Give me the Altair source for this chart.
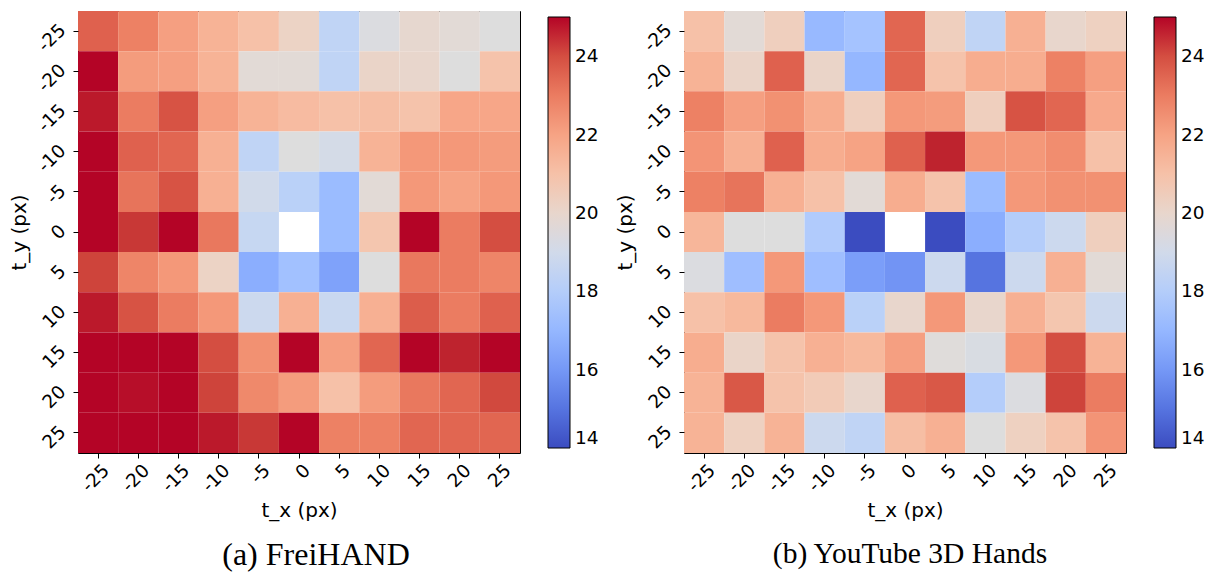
import altair as alt
import pandas as pd

# ---------------- data ----------------
t_x_labels = ["-25", "-20", "-15", "-10", "-5", "0", "5", "10", "15", "20", "25"]
t_y_labels = ["-25", "-20", "-15", "-10", "-5", "0", "5", "10", "15", "20", "25"]

# rows: t_y from -25 (top) to 25 (bottom); columns: t_x from -25 to 25
freihand_rows = [
    [23.6, 22.9, 22.1, 21.5, 21.0, 20.2, 18.4, 19.4, 19.9, 19.7, 19.5],
    [25.5, 22.2, 22.1, 21.5, 19.7, 19.7, 18.4, 20.1, 20.0, 19.5, 20.9],
    [24.8, 23.0, 23.9, 22.1, 21.5, 21.2, 21.0, 21.1, 20.9, 21.9, 21.9],
    [25.5, 23.6, 23.5, 21.6, 18.4, 19.5, 19.1, 21.5, 22.3, 22.3, 22.2],
    [25.5, 23.2, 23.9, 21.6, 19.0, 18.2, 17.2, 19.7, 22.3, 22.0, 22.3],
    [25.5, 24.4, 25.5, 23.1, 18.6, None, 17.2, 20.8, 25.5, 23.0, 24.0],
    [24.2, 22.8, 22.3, 20.2, 16.7, 17.4, 16.3, 19.5, 23.1, 23.0, 22.8],
    [24.8, 23.9, 23.0, 22.3, 18.8, 21.6, 18.7, 21.6, 23.7, 23.0, 23.6],
    [25.5, 25.5, 25.5, 24.0, 22.5, 25.5, 22.1, 23.5, 25.5, 24.7, 25.5],
    [25.5, 24.9, 25.5, 24.2, 22.7, 22.2, 21.0, 22.2, 23.1, 23.5, 24.1],
    [25.5, 25.5, 25.5, 24.8, 24.4, 25.5, 22.9, 22.9, 23.5, 23.5, 23.5],
]

youtube_rows = [
    [21.0, 19.7, 20.4, 17.1, 17.5, 23.5, 20.4, 18.4, 21.6, 20.0, 20.3],
    [21.5, 20.1, 23.6, 20.1, 17.0, 23.5, 20.9, 21.7, 21.7, 22.9, 22.1],
    [22.9, 22.1, 22.5, 21.7, 20.4, 22.3, 22.2, 20.4, 23.9, 23.5, 21.8],
    [22.4, 21.6, 23.6, 21.7, 22.0, 23.6, 24.7, 22.3, 22.3, 22.6, 21.0],
    [22.9, 23.2, 21.6, 21.0, 19.7, 21.7, 20.9, 17.2, 22.3, 22.5, 22.5],
    [21.4, 19.5, 19.5, 17.9, 14.0, None, 14.0, 16.7, 18.0, 18.8, 20.4],
    [19.4, 17.3, 22.3, 17.3, 16.2, 15.9, 18.8, 15.0, 18.8, 21.6, 19.7],
    [21.0, 21.3, 23.0, 22.3, 18.2, 20.0, 22.3, 20.0, 21.6, 20.8, 18.8],
    [21.7, 20.1, 20.9, 21.6, 21.3, 22.1, 19.6, 19.3, 22.3, 24.0, 21.5],
    [21.5, 23.8, 20.9, 20.6, 20.0, 23.6, 23.8, 18.0, 19.4, 24.2, 23.0],
    [21.5, 20.3, 21.5, 18.8, 18.4, 21.1, 21.6, 19.5, 20.3, 20.9, 22.4],
]

captions = ["(a) FreiHAND", "(b) YouTube 3D Hands"]
colorbar_ticks = [14, 16, 18, 20, 22, 24]

# coolwarm colour map (Moreland 33-point table) over 14..25
coolwarm = [
    "#3b4cc0", "#445acc", "#4d68d7", "#5775e1", "#6282ea", "#6c8ef1", "#779af7",
    "#82a5fb", "#8db0fe", "#98b9ff", "#a3c2ff", "#aec9fd", "#b8d0f9", "#c2d5f4",
    "#ccd9ee", "#d5dbe6", "#dddddd", "#e5d8d1", "#ecd3c5", "#f1cdba", "#f5c4ac",
    "#f7bba0", "#f7b194", "#f7a688", "#f49a7b", "#f18d6f", "#ec7f63", "#e57058",
    "#de604d", "#d55042", "#cb3e38", "#c0282f", "#b40426",
]
cmap_domain = [14 + 11 * i / 32 for i in range(33)]


def to_frame(rows):
    recs = []
    for yi, row in enumerate(rows):
        for xi, v in enumerate(row):
            if v is None:
                continue
            recs.append({"t_x": t_x_labels[xi], "t_y": t_y_labels[yi], "err": v})
    return pd.DataFrame(recs)


def panel(rows, caption, cap_dx, cap_size):
    df = to_frame(rows)
    return (
        alt.Chart(df)
        .mark_rect(strokeWidth=0)
        .encode(
            x=alt.X(
                "t_x:O",
                sort=t_x_labels,
                scale=alt.Scale(paddingInner=0, paddingOuter=0),
                axis=alt.Axis(
                    title="t_x (px)",
                    labelAngle=315,
                    labelAlign="right",
                    labelBaseline="middle",
                    labelPadding=9,
                    labelOffset=8,
                    titlePadding=5,
                ),
            ),
            y=alt.Y(
                "t_y:O",
                sort=t_y_labels,
                scale=alt.Scale(paddingInner=0, paddingOuter=0),
                axis=alt.Axis(
                    title="t_y (px)",
                    labelAngle=315,
                    labelAlign="right",
                    labelBaseline="middle",
                    labelPadding=11,
                    labelOffset=-4,
                    titlePadding=5,
                ),
            ),
            color=alt.Color(
                "err:Q",
                scale=alt.Scale(domain=cmap_domain, range=coolwarm, clamp=True, interpolate="rgb"),
                legend=alt.Legend(
                    title=None,
                    orient="right",
                    direction="vertical",
                    values=colorbar_ticks,
                    gradientLength=431,
                    gradientThickness=22,
                    gradientStrokeColor="black",
                    gradientStrokeWidth=1,
                    labelFont="DejaVu Sans",
                    labelFontSize=18.5,
                    labelColor="black",
                    labelOffset=5,
                    offset=22,
                    padding=6,
                ),
            ),
        )
        .properties(
            width=442,
            height=442,
            title=alt.TitleParams(
                text=caption,
                orient="bottom",
                font="Liberation Serif",
                fontSize=cap_size,
                fontWeight="normal",
                color="black",
                anchor="middle",
                offset=20,
                dx=cap_dx,
            ),
        )
    )


chart = (
    alt.hconcat(
        panel(freihand_rows, captions[0], 17, 32),
        panel(youtube_rows, captions[1], 5, 29.5),
        spacing=8,
    )
    .resolve_scale(color="independent")
    .properties(padding={"left": 8, "top": 10, "right": 0, "bottom": 0}, background="white")
    .configure_view(stroke="black", strokeWidth=1)
    .configure_axis(
        domain=False,
        ticks=True,
        tickSize=5,
        tickColor="black",
        labelFont="DejaVu Sans",
        labelFontSize=18.5,
        labelColor="black",
        titleFont="DejaVu Sans",
        titleFontSize=20,
        titleFontWeight="normal",
        titleColor="black",
        grid=False,
    )
)

chart.save("out.html", embed_options={"renderer": "svg", "actions": False})
